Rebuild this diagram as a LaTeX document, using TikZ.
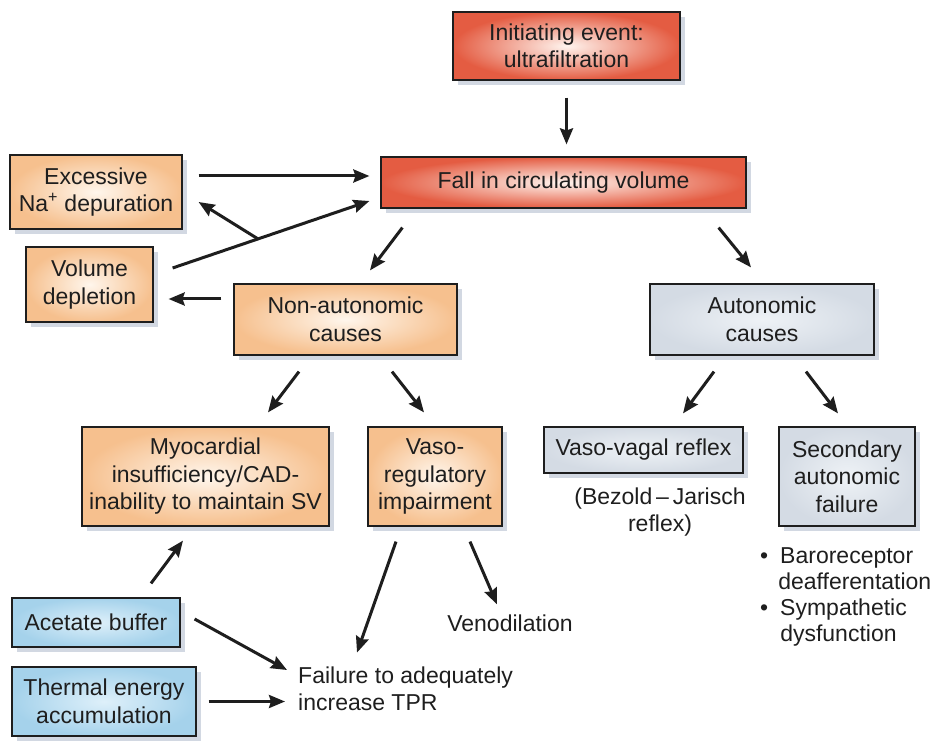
\documentclass[tikz,border=0pt]{standalone}
\usepackage{fontspec}
\setmainfont{Liberation Sans}
\usetikzlibrary{arrows.meta,shadows,calc}

\definecolor{redout}{RGB}{228,92,66}
\definecolor{redin}{RGB}{255,244,238}
\definecolor{orgout}{RGB}{246,192,142}
\definecolor{orgin}{RGB}{255,246,236}
\definecolor{grayout}{RGB}{212,219,228}
\definecolor{grayin}{RGB}{238,242,246}
\definecolor{blueout}{RGB}{165,210,235}
\definecolor{bluein}{RGB}{222,240,250}
\definecolor{shadowc}{RGB}{210,216,226}
\definecolor{inkc}{RGB}{30,30,30}

\begin{document}
\begin{tikzpicture}[
        x=1pt, y=-1pt,
        every node/.style={font=\fontsize{23}{27.5}\selectfont, text=inkc},
        box/.style={draw=inkc, line width=1.2pt, align=center, inner sep=2pt,
                    drop shadow={shadow xshift=5pt, shadow yshift=-5pt,
                                 fill=shadowc, opacity=1}},
        redbox/.style={box, inner color=redin, outer color=redout},
        orgbox/.style={box, inner color=orgin, outer color=orgout},
        graybox/.style={box, inner color=grayin, outer color=grayout},
        bluebox/.style={box, inner color=bluein, outer color=blueout},
        plain/.style={align=center, inner sep=0pt},
        arrow/.style={-{Stealth[length=16pt, width=13pt, inset=2pt]},
                      line width=3pt, draw=inkc}
    ]
        \useasboundingbox (0,0) rectangle (937,743);

        \node[redbox, minimum width=227, minimum height=68] (init) at (566.5,46)
            {Initiating event:\\ultrafiltration};
        \node[redbox, minimum width=365, minimum height=51] (fall) at (563.5,182.5)
            {Fall in circulating volume};
        \node[orgbox, minimum width=172, minimum height=74] (excess) at (96,192)
            {Excessive\\Na\textsuperscript{+} depuration};
        \node[orgbox, minimum width=127, minimum height=75] (voldep) at (89.5,284.5)
            {Volume\\depletion};
        \node[orgbox, minimum width=223, minimum height=71] (nonauto) at (345.5,319.5)
            {Non-autonomic\\causes};
        \node[graybox, minimum width=224, minimum height=71] (auto) at (762,319.5)
            {Autonomic\\causes};
        \node[orgbox, minimum width=247, minimum height=99] (myo) at (205.5,476.5)
            {Myocardial\\insufficiency/CAD-\\inability to maintain SV};
        \node[orgbox, minimum width=134, minimum height=99] (vasoreg) at (435,476.5)
            {Vaso-\\regulatory\\impairment};
        \node[graybox, minimum width=199, minimum height=46] (vagal) at (643.5,450)
            {Vaso-vagal reflex};
        \node[graybox, minimum width=136, minimum height=99] (secfail) at (847,476.5)
            {Secondary\\autonomic\\failure};
        \node[bluebox, minimum width=168, minimum height=49] (acetate) at (96,622.5)
            {Acetate buffer};
        \node[bluebox, minimum width=184, minimum height=69] (thermal) at (104,701.5)
            {Thermal energy\\accumulation};

        \node[plain] (bezold) at (660,512) {(Bezold\,--\,Jarisch\\reflex)};
        \node[plain, anchor=north west, align=left,
              font=\fontsize{23}{26}\selectfont] (baro) at (760,545)
            {\begin{tabular}{@{}l@{\hspace{12pt}}l@{}}
             \textbullet & Baroreceptor\\
                         & \hspace{-2pt}deafferentation\\
             \textbullet & Sympathetic\\
                         & dysfunction
             \end{tabular}};
        \node[plain] (veno) at (510,623) {Venodilation};
        \node[plain, anchor=west, align=left] (failure) at (298,689)
            {Failure to adequately\\increase TPR};

        % upper part
        \draw[arrow, shorten <=17pt, shorten >=12pt] (init.south) -- (init.south |- fall.north);
        \draw[arrow, shorten <=16pt, shorten >=11pt]
            ([yshift=16]excess.east) -- ([yshift=16]excess.east -| fall.west);
        \draw[arrow] ([xshift=19,yshift=16.5]voldep.east) coordinate (vs)
            -- ([xshift=-11,yshift=-18.5]fall.west) coordinate (ve);
        \draw[arrow] ($(vs)!0.434!(ve)$) -- ([xshift=16,yshift=-10]excess.east);
        \draw[arrow] ([xshift=22,yshift=-19]fall.south west) -- ([xshift=24.5,yshift=13]nonauto.north);
        \draw[arrow] ([xshift=-28,yshift=-19]fall.south east) -- ([xshift=-11,yshift=16]auto.north);
        \draw[arrow, shorten <=12pt, shorten >=15pt]
            ([yshift=20.5]nonauto.west) -- ([yshift=20.5]nonauto.west -| voldep.east);

        % middle part
        \draw[arrow] ([xshift=-46.5,yshift=-16]nonauto.south) -- ([xshift=62.5,yshift=14]myo.north);
        \draw[arrow] ([xshift=46.5,yshift=-16]nonauto.south) -- ([xshift=-11,yshift=14]vasoreg.north);
        \draw[arrow] ([xshift=-48,yshift=-16]auto.south) -- ([xshift=39.5,yshift=13]vagal.north);
        \draw[arrow] ([xshift=44,yshift=-16]auto.south) -- ([xshift=-9,yshift=13]secfail.north);

        % lower part
        \draw[arrow] ([xshift=55,yshift=14]acetate.north) -- ([xshift=-22.5,yshift=-14]myo.south);
        \draw[arrow] ([xshift=-39,yshift=-15]vasoreg.south) -- ([xshift=59,yshift=14]failure.north west);
        \draw[arrow] ([xshift=35,yshift=-15]vasoreg.south) -- ([xshift=-13,yshift=10]veno.north);
        \draw[arrow] ([xshift=14,yshift=3.5]acetate.east) -- ([xshift=-11,yshift=19]failure.west);
        \draw[arrow, shorten <=12pt, shorten >=13pt] (thermal.east) -- (thermal.east -| failure.west);
    \end{tikzpicture}
\end{document}
